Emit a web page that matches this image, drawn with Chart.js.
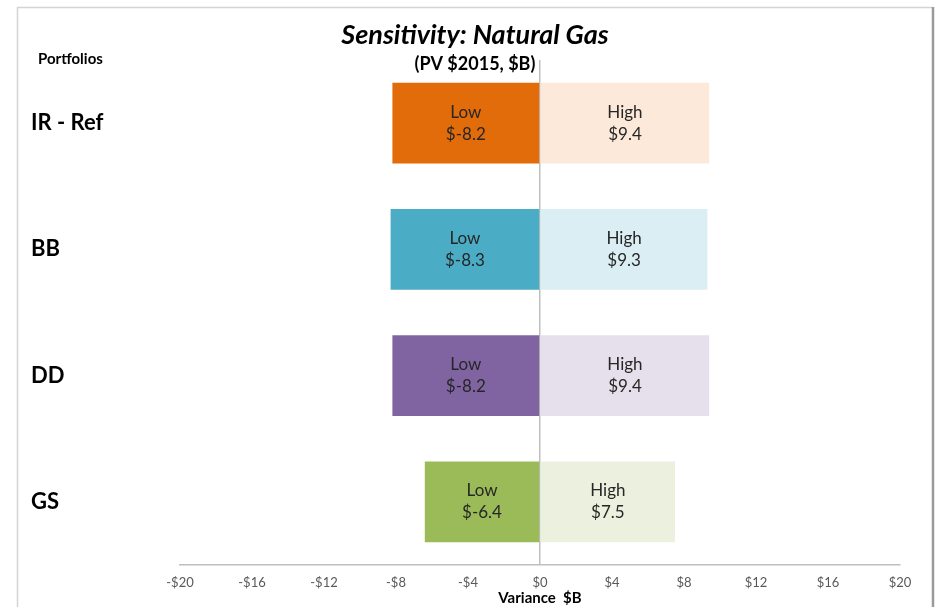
<!DOCTYPE html>
<html>
<head>
<meta charset="utf-8">
<title>Sensitivity: Natural Gas</title>
<script src="https://cdn.jsdelivr.net/npm/chart.js@4/dist/chart.umd.min.js"></script>
<style>
  html, body { margin: 0; padding: 0; background: #ffffff; }
  #wrap { width: 938px; height: 607px; position: relative; }
</style>
</head>
<body>
<div id="wrap"><canvas id="chart" width="938" height="607"></canvas></div>
<script>
// Portfolios and their swing in PV ($B) under low / high natural gas prices
const portfolios = ['IR - Ref', 'BB', 'DD', 'GS'];
const lowValues  = [-8.2, -8.3, -8.2, -6.4];
const highValues = [9.4, 9.3, 9.4, 7.5];
const lowColors  = ['#E36C0A', '#4BACC6', '#8064A2', '#9BBB59'];
const highColors = ['#FDE9D9', '#DAEEF3', '#E5E0EC', '#EBF1DE'];
const axisTicks  = [-20, -16, -12, -8, -4, 0, 4, 8, 12, 16, 20];

const FONT = 'Lato, "Open Sans", "Liberation Sans", sans-serif';

function money(v) {
  return v < 0 ? '-$' + Math.abs(v) : '$' + v;
}

// Frame, headings and the side caption
const framePlugin = {
  id: 'frame',
  beforeDraw(chart) {
    const c = chart.ctx;
    c.save();
    c.fillStyle = '#ffffff';
    c.fillRect(0, 0, chart.width, chart.height);
    c.strokeStyle = '#d4d4d4';
    c.lineWidth = 1.5;
    c.beginPath();
    c.moveTo(17.5, chart.height);
    c.lineTo(17.5, 7.5);
    c.lineTo(932, 7.5);
    c.stroke();
    c.strokeStyle = '#9a9a9a';
    c.lineWidth = 2.5;
    c.beginPath();
    c.moveTo(933, 7);
    c.lineTo(933, chart.height);
    c.stroke();
    c.restore();
  },
  afterDraw(chart) {
    const c = chart.ctx;
    c.save();
    c.fillStyle = '#000000';
    c.textAlign = 'center';
    c.textBaseline = 'middle';
    c.font = 'italic bold 27px ' + FONT;
    c.fillText('Sensitivity: Natural Gas', 475, 35);
    c.font = 'bold 18px ' + FONT;
    c.fillText('(PV $2015, $B)', 475, 64);
    c.textAlign = 'left';
    c.font = 'bold 15px ' + FONT;
    c.fillText('Portfolios', 38, 59);
    c.restore();
  }
};

// "Low / High" captions with the value, centred in each bar
const barLabelPlugin = {
  id: 'barLabels',
  afterDatasetsDraw(chart) {
    const c = chart.ctx;
    c.save();
    c.fillStyle = '#262626';
    c.textAlign = 'center';
    c.textBaseline = 'middle';
    c.font = '17px ' + FONT;
    chart.data.datasets.forEach((ds, di) => {
      const meta = chart.getDatasetMeta(di);
      meta.data.forEach((bar, i) => {
        const v = ds.data[i];
        const cx = (bar.x + bar.base) / 2;
        c.fillText(ds.label, cx, bar.y - 11);
        c.fillText('$' + v, cx, bar.y + 11);
      });
    });
    c.restore();
  }
};

new Chart(document.getElementById('chart'), {
  type: 'bar',
  data: {
    labels: portfolios,
    datasets: [
      { label: 'Low',  data: lowValues,  backgroundColor: lowColors,  borderWidth: 0 },
      { label: 'High', data: highValues, backgroundColor: highColors, borderWidth: 0 }
    ]
  },
  options: {
    indexAxis: 'y',
    responsive: false,
    animation: false,
    events: [],
    categoryPercentage: 0.64,
    barPercentage: 1,
    layout: { padding: { left: 31, right: 38, top: 60, bottom: 0 } },
    plugins: {
      legend: { display: false },
      title: { display: false },
      tooltip: { enabled: false }
    },
    scales: {
      x: {
        stacked: true,
        min: -20,
        max: 20,
        z: 1,
        afterBuildTicks(scale) {
          scale.ticks = axisTicks.map(v => ({ value: v }));
        },
        afterFit(scale) { scale.height = 42; },
        grid: {
          drawTicks: false,
          color: ctx => (ctx.tick && ctx.tick.value === 0) ? '#bfbfbf' : 'rgba(0,0,0,0)',
          lineWidth: 1.5
        },
        border: { display: true, color: '#bfbfbf', width: 1.5 },
        ticks: {
          padding: 10,
          color: '#595959',
          font: { family: FONT, size: 13 },
          callback: v => money(v)
        },
        title: {
          display: true,
          text: 'Variance  $B',
          color: '#000000',
          font: { family: FONT, size: 15, weight: 'bold' },
          padding: { top: 0, bottom: 0 }
        }
      },
      y: {
        stacked: true,
        afterFit(scale) { scale.width = 149; },
        grid: { display: false },
        border: { display: false },
        ticks: {
          crossAlign: 'far',
          color: '#000000',
          font: { family: FONT, size: 22, weight: 'bold' }
        }
      }
    }
  },
  plugins: [framePlugin, barLabelPlugin]
});
</script>
</body>
</html>
